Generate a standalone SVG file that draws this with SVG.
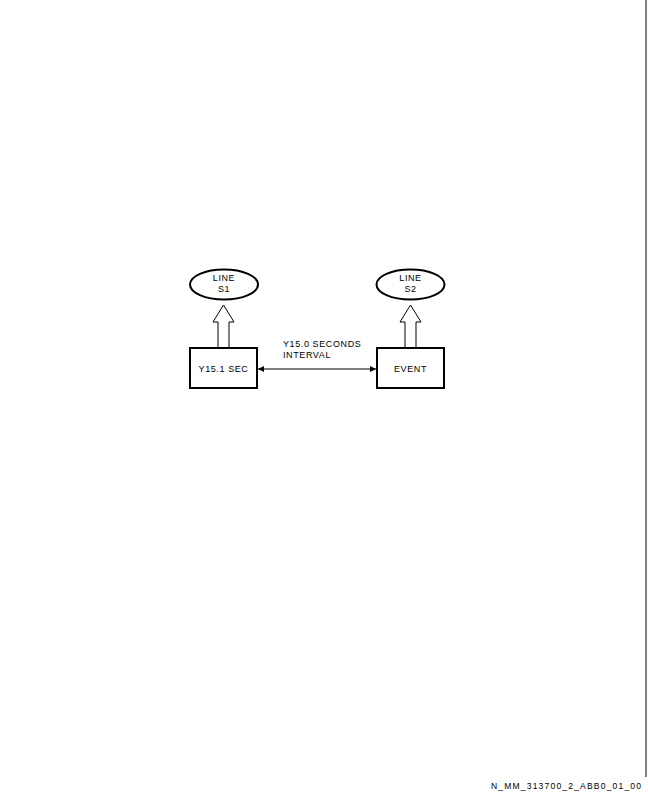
<svg xmlns="http://www.w3.org/2000/svg" width="648" height="792" viewBox="0 0 648 792">
<style>
.t{font-family:"Liberation Sans",Arial,sans-serif;font-size:9px;fill:#000;letter-spacing:0.6px}
.box{fill:#fff;stroke:#000;stroke-width:2}
.ell{fill:#fff;stroke:#000;stroke-width:2}
.hol{fill:#fff;stroke:#000;stroke-width:1}
.ln{stroke:#000;stroke-width:1;fill:none}
</style>
<defs>
<marker id="ah" viewBox="0 0 10 10" refX="10" refY="5" markerWidth="10" markerHeight="6" markerUnits="userSpaceOnUse" orient="auto-start-reverse">
<path d="M0,0 L10,5 L0,10 Z" fill="#000"/>
</marker>
</defs>
<rect width="648" height="792" fill="#fff"/>
<line x1="646" y1="0" x2="646" y2="777" class="ln"/>
<g id="connectors">
<path class="hol" d="M218,348 L218,322 L213,322 L223.5,305 L234,322 L229,322 L229,348 Z"/>
<path class="hol" d="M405,348 L405,322 L400,322 L410.5,305 L421,322 L416,322 L416,348 Z"/>
<line class="ln" x1="258" y1="369" x2="376" y2="369" marker-start="url(#ah)" marker-end="url(#ah)"/>
<text class="t" x="283" y="347">Y15.0 SECONDS</text>
<text class="t" x="283" y="358">INTERVAL</text>
</g>
<g id="line-s1">
<ellipse class="ell" cx="224" cy="284.5" rx="34" ry="15"/>
<text class="t" x="224" y="281" text-anchor="middle">LINE</text>
<text class="t" x="224" y="292" text-anchor="middle">S1</text>
</g>
<g id="line-s2">
<ellipse class="ell" cx="410.5" cy="284.5" rx="34" ry="15"/>
<text class="t" x="410.5" y="281" text-anchor="middle">LINE</text>
<text class="t" x="410.5" y="292" text-anchor="middle">S2</text>
</g>
<g id="y151">
<rect class="box" x="190" y="348" width="67" height="40"/>
<text class="t" x="223.5" y="372" text-anchor="middle">Y15.1 SEC</text>
</g>
<g id="event">
<rect class="box" x="377" y="348" width="67" height="40"/>
<text class="t" x="410.5" y="372" text-anchor="middle">EVENT</text>
</g>
<text class="t" x="491" y="789" textLength="150" lengthAdjust="spacing" style="font-size:8.5px;letter-spacing:0">N_MM_313700_2_ABB0_01_00</text>
</svg>
